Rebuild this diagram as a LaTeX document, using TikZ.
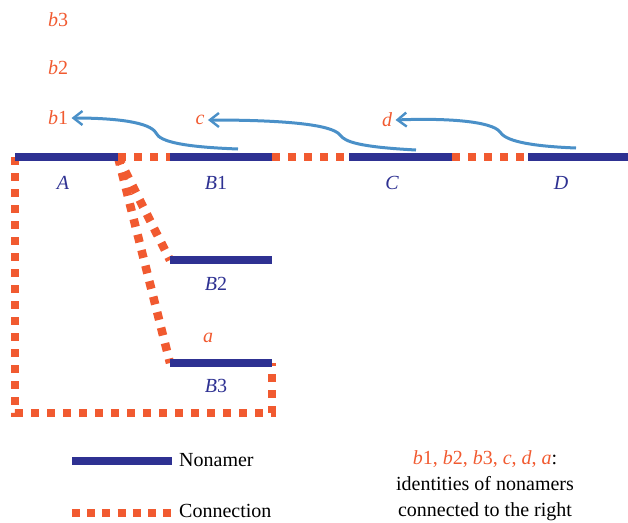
\documentclass[tikz,border=0pt]{standalone}
\usepackage{fontspec}
\setmainfont{Liberation Serif}
\usetikzlibrary{arrows.meta}
\definecolor{navy}{HTML}{2E3192}
\definecolor{orred}{HTML}{F15A30}
\definecolor{arrblue}{HTML}{4A90C8}
\tikzset{
  nonamer/.style={draw=navy,line width=7.5pt},
  conn/.style={draw=orred,line width=8.5pt,dash pattern=on 8pt off 8pt},
  idarrow/.style={draw=arrblue,line width=3pt,-{Straight Barb[length=9pt,width=14pt,line width=2.4pt]}},
  nlab/.style={text=navy,font=\fontsize{20}{24}\selectfont\itshape},
  rlab/.style={text=orred,font=\fontsize{20}{24}\selectfont},
  leg/.style={font=\fontsize{20}{26}\selectfont,inner sep=1pt}
}
\begin{document}
\begin{tikzpicture}[x=1pt,y=-1pt]
\useasboundingbox (0,0) rectangle (628,522);
% coordinates
\coordinate (A1) at (15,157); \coordinate (A2) at (118,157);
\coordinate (B1a) at (170,157); \coordinate (B1b) at (272,157);
\coordinate (Ca) at (349,157); \coordinate (Cb) at (452,157);
\coordinate (Da) at (528,157); \coordinate (Db) at (628,157);
\coordinate (B2a) at (170,260); \coordinate (B2b) at (272,260);
\coordinate (B3a) at (170,363); \coordinate (B3b) at (272,363);
\coordinate (LB) at (15,413); \coordinate (RB) at (272,413);
% connections
\draw[conn] (A2) -- (B1a);
\draw[conn] (B1b) -- (Ca);
\draw[conn] (Cb) -- (Da);
\draw[conn] (A2) -- (B2a);
\draw[conn] (A2) -- (B3a);
\draw[conn] (A1) -- (LB) -- (RB) -- (B3b);
% nonamers
\draw[nonamer] (A1) -- (A2);
\draw[nonamer] (B1a) -- (B1b);
\draw[nonamer] (Ca) -- (Cb);
\draw[nonamer] (Da) -- (Db);
\draw[nonamer] (B2a) -- (B2b);
\draw[nonamer] (B3a) -- (B3b);
% labels
\node[nlab] (lA) at (63,183) {A};
\node[nlab] (lB1) at (216,183) {B\/\upshape 1};
\node[nlab] (lC) at (392,183) {C};
\node[nlab] (lD) at (561,183) {D};
\node[nlab] (lB2) at (216,284) {B\/\upshape 2};
\node[nlab] (lB3) at (216,386) {B\/\upshape 3};
\node[rlab] (la) at (208,338) {\itshape a};
\node[rlab] (lb3) at (58,20) {\itshape b\/\upshape 3};
\node[rlab] (lb2) at (58,68) {\itshape b\/\upshape 2};
\node[rlab] (lb1) at (58,118) {\itshape b\/\upshape 1};
\node[rlab] (lc) at (200,120) {\itshape c};
\node[rlab] (ld) at (387,120) {\itshape d};
% arrows
\coordinate (s1) at (238,149); \coordinate (s2) at (416,150); \coordinate (s3) at (576,148);
\draw[idarrow] (s1) .. controls (185,147) and (160,142) .. (156,133) .. controls (150,122) and (115,118) .. (lb1.east);
\draw[idarrow] (s2) .. controls (360,147) and (345,142) .. (340,135) .. controls (332,124) and (280,120) .. (lc.east);
\draw[idarrow] (s3) .. controls (525,146) and (505,140) .. (500,132) .. controls (492,121) and (445,118) .. (ld.east);
% legend
\coordinate (n1) at (72,461); \coordinate (n2) at (172,461);
\coordinate (c1) at (72,513); \coordinate (c2) at (172,513);
\draw[nonamer] (n1) -- (n2);
\draw[conn,dash pattern=on 8pt off 7.2pt] (c1) -- (c2);
\node[leg,anchor=west] (tn) at (178,460) {Nonamer};
\node[leg,anchor=west] (tc) at (178,511) {Connection};
\node[leg,align=center] (tid) at (485,486) {{\color{orred}\itshape b\/\upshape 1, \itshape b\/\upshape 2, \itshape b\/\upshape 3, \itshape c\upshape, \itshape d\upshape, \itshape a}:\\identities of nonamers\\connected to the right};
\end{tikzpicture}
\end{document}
